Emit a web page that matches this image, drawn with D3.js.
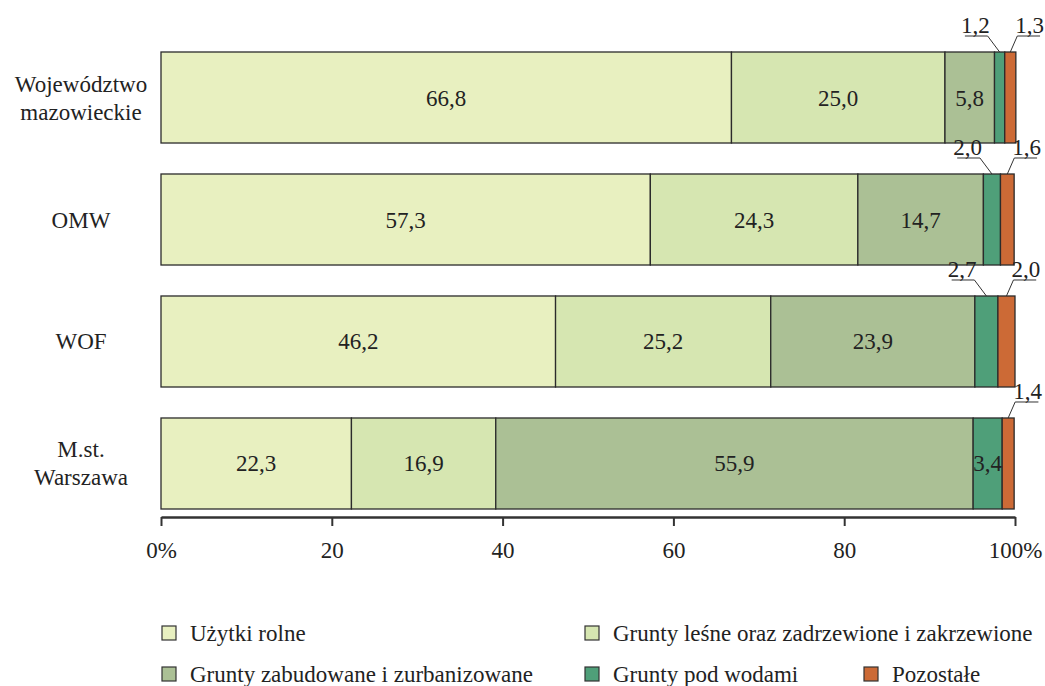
<!DOCTYPE html>
<html>
<head>
<meta charset="utf-8">
<script src="https://cdn.jsdelivr.net/npm/d3@7"></script>
<style>
  body { margin: 0; background: #fff; }
  svg text { font-family: "Liberation Serif", "Times New Roman", Times, "DejaVu Serif", "Noto Serif", serif; fill: #222; }
</style>
</head>
<body>
<div id="chart"></div>
<script>
'use strict';

// Row names (multi-line labels split by \n)
const regions = ['Województwo\nmazowieckie', 'OMW', 'WOF', 'M.st.\nWarszawa'];

const categories = [
  'Użytki rolne',
  'Grunty leśne oraz zadrzewione i zakrzewione',
  'Grunty zabudowane i zurbanizowane',
  'Grunty pod wodami',
  'Pozostałe',
];

// Share of each category (%) per region, same order as categories
const uzytkiRolne = [66.8, 57.3, 46.2, 22.3];
const gruntyLesne = [25.0, 24.3, 25.2, 16.9];
const gruntyZabudowane = [5.8, 14.7, 23.9, 55.9];
const gruntyPodWodami = [1.2, 2.0, 2.7, 3.4];
const pozostale = [1.3, 1.6, 2.0, 1.4];

const xTicks = [0, 20, 40, 60, 80, 100];

const colors = ['#e8f0c0', '#d6e6b1', '#abc095', '#4f9f79', '#cc6a36'];

const series = [uzytkiRolne, gruntyLesne, gruntyZabudowane, gruntyPodWodami, pozostale];

const width = 1045;
const height = 686;
const fontFamily = '"Liberation Serif", "Times New Roman", Times, "DejaVu Serif", serif';
const fmt = (v) => d3.format('.1f')(v).replace('.', ',');

const svg = d3.select('#chart')
  .append('svg')
  .attr('width', width)
  .attr('height', height)
  .attr('font-family', fontFamily);

const x = d3.scaleLinear()
  .domain([0, 100])
  .range([161, 1015]);

const y = d3.scaleBand()
  .domain(regions)
  .range([52, 509])
  .paddingInner(0.254)
  .paddingOuter(0);

// Build stacked segments
const segments = [];
regions.forEach((r, i) => {
  let acc = 0;
  series.forEach((s, k) => {
    segments.push({ region: r, k, value: s[i], x0: acc, x1: acc + s[i] });
    acc += s[i];
  });
});

svg.append('g')
  .selectAll('rect')
  .data(segments)
  .join('rect')
  .attr('x', (d) => x(d.x0))
  .attr('y', (d) => y(d.region))
  .attr('width', (d) => x(d.x1) - x(d.x0))
  .attr('height', y.bandwidth())
  .attr('fill', (d) => colors[d.k])
  .attr('stroke', '#2b2b2b')
  .attr('stroke-width', 1.3);

// Labels inside segments (values >= 3)
svg.append('g')
  .selectAll('text')
  .data(segments.filter((d) => d.value >= 3))
  .join('text')
  .attr('x', (d) => (x(d.x0) + x(d.x1)) / 2)
  .attr('y', (d) => y(d.region) + y.bandwidth() / 2 + 8)
  .attr('text-anchor', 'middle')
  .attr('font-size', 23)
  .text((d) => fmt(d.value));

// Callout labels for small segments
const callouts = svg.append('g');
segments.filter((d) => d.value < 3).forEach((d) => {
  const cx = (x(d.x0) + x(d.x1)) / 2;
  const top = y(d.region);
  const baseY = top - 19;
  const lineY = top - 16;
  const isLeft = d.k === 3;
  const t = callouts.append('text')
    .attr('y', baseY)
    .attr('font-size', 23)
    .attr('text-anchor', isLeft ? 'end' : 'start')
    .attr('x', isLeft ? cx - 10 : cx + 5)
    .text(fmt(d.value));
  const bb = t.node().getBBox();
  const nearX = isLeft ? bb.x + bb.width - 2 : bb.x + 2;
  const farX = isLeft ? bb.x + 4 : bb.x + bb.width - 4;
  callouts.append('path')
    .attr('d', `M${farX},${lineY}L${nearX},${lineY}L${cx},${top}`)
    .attr('fill', 'none')
    .attr('stroke', '#333')
    .attr('stroke-width', 1);
});

// Row labels
const rowLabels = svg.append('g');
regions.forEach((r) => {
  const lines = r.split('\n');
  const mid = y(r) + y.bandwidth() / 2;
  const lh = 28;
  lines.forEach((l, j) => {
    rowLabels.append('text')
      .attr('x', 81)
      .attr('y', mid + 8 + (j - (lines.length - 1) / 2) * lh)
      .attr('text-anchor', 'middle')
      .attr('font-size', 23)
      .text(l);
  });
});

// X axis
const xAxis = d3.axisBottom(x)
  .tickValues(xTicks)
  .tickSize(9)
  .tickSizeOuter(0)
  .tickPadding(16)
  .tickFormat((d) => (d === 0 || d === 100) ? `${d}%` : d);

const ax = svg.append('g')
  .attr('transform', 'translate(0, 517)')
  .call(xAxis);
ax.attr('font-family', fontFamily);
ax.select('.domain').attr('stroke', '#333').attr('stroke-width', 2.5);
ax.selectAll('.tick line').attr('stroke', '#333').attr('stroke-width', 2);
ax.selectAll('.tick text')
  .attr('font-size', 23)
  .attr('fill', '#222');

// Legend
const legendPos = [
  [162, 633], [585, 633],
  [162, 674], [585, 674], [864, 674],
];
const legend = svg.append('g');
categories.forEach((c, i) => {
  const [lx, ly] = legendPos[i];
  legend.append('rect')
    .attr('x', lx)
    .attr('y', ly - 7)
    .attr('width', 14)
    .attr('height', 14)
    .attr('fill', colors[i])
    .attr('stroke', '#333')
    .attr('stroke-width', 1.2);
  legend.append('text')
    .attr('x', lx + 28)
    .attr('y', ly + 8)
    .attr('font-size', 23)
    .text(c);
});
</script>
</body>
</html>
